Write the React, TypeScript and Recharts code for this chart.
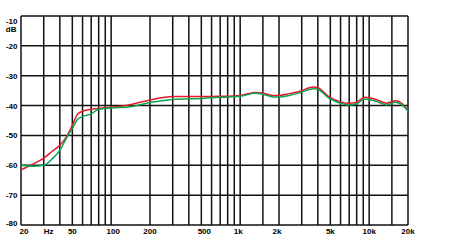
import { CartesianGrid, Line, LineChart, XAxis, YAxis } from 'recharts'

const freqs = [
  20, 25, 30, 35, 40, 45, 50, 55, 60, 70, 80, 100, 140, 200, 300, 500, 700, 1000, 1300, 1500, 1800,
  2000, 2400, 2900, 3700, 4000, 4900, 6000, 7000, 8000, 9200, 10000, 11700, 13600, 16000, 18000, 20000,
]

const redLevels = [
  -61.5, -59.5, -57.6, -55.3, -53.3, -50.5, -46.6, -42.8, -41.9, -41.2, -41, -40.6, -39.7, -38.1,
  -37, -37, -36.9, -36.6, -35.6, -35.8, -36.6, -36.6, -36, -35.2, -33.8, -34, -37.1, -38.8, -39.2,
  -38.9, -37.2, -37.4, -38.2, -39.2, -38.4, -39.3, -41.6,
]

const greenLevels = [
  -60, -60.3, -60, -57.8, -55, -50.9, -47.6, -44.6, -43.7, -42.8, -41.2, -40.8, -40.4, -39, -38,
  -37.6, -37.2, -36.9, -35.9, -36.2, -37.1, -37.1, -36.6, -35.7, -34.4, -34.6, -37.6, -39.2, -39.8,
  -39.4, -37.8, -38, -38.8, -39.8, -38.9, -39.8, -41.9,
]

const gridFreqs = [
  20, 30, 40, 50, 60, 70, 80, 90, 100, 200, 300, 400, 500, 600, 700, 800, 900, 1000, 1500, 2000,
  3000, 4000, 5000, 6000, 7000, 8000, 9000, 10000, 15000, 20000,
]

const freqLabels: Record<number, string> = {
  20: '20',
  30: 'Hz',
  50: '50',
  100: '100',
  200: '200',
  500: '500',
  1000: '1k',
  2000: '2k',
  5000: '5k',
  10000: '10k',
  20000: '20k',
}

// small nudges so labels sit where the original has them
const labelShift: Record<number, number> = { 20: 3, 30: 5, 100: 2, 500: 3, 1000: -2, 2000: -2 }

const dbTicks = [-80, -70, -60, -50, -40, -30, -20, -10]

const data = freqs.map((f, i) => ({ f, red: redLevels[i], green: greenLevels[i] }))

const font = { fontFamily: 'Liberation Sans, Arial, sans-serif', fontSize: 8, fontWeight: 700 }

function FreqTick(props: any) {
  const value = props.payload.value
  const label = freqLabels[value]
  if (!label) return <g />
  return (
    <text x={props.x + (labelShift[value] || 0)} y={234} textAnchor='middle' fill='#000' {...font}>
      {label}
    </text>
  )
}

function DbTick(props: any) {
  const value = props.payload.value
  let y = props.y + 3
  if (value === -10) y += 5
  if (value === -80) y -= 2
  return (
    <g>
      <text x={17.5} y={y} textAnchor='end' fill='#000' {...font}>
        {value}
      </text>
      {value === -10 && (
        <text x={16.5} y={y + 8} textAnchor='end' fill='#000' {...font}>
          dB
        </text>
      )}
    </g>
  )
}

export default function App() {
  return (
    <div style={{ position: 'absolute', left: 0, top: 0, width: 450, height: 246, background: '#fff' }}>
      <LineChart width={450} height={246} data={data} margin={{ top: 16, right: 42, bottom: 0, left: 0 }}>
        <CartesianGrid stroke='#111' strokeWidth={1.5} />
        <XAxis
          dataKey='f'
          type='number'
          scale='log'
          domain={[20, 20000]}
          ticks={gridFreqs}
          interval={0}
          tick={<FreqTick />}
          tickLine={false}
          axisLine={false}
          height={21}
          allowDataOverflow
        />
        <YAxis
          type='number'
          domain={[-80, -10]}
          ticks={dbTicks}
          interval={0}
          tick={<DbTick />}
          tickLine={false}
          axisLine={false}
          width={21}
        />
        <Line
          type='monotone'
          dataKey='red'
          stroke='#e3192b'
          strokeWidth={1.5}
          dot={false}
          isAnimationActive={false}
        />
        <Line
          type='monotone'
          dataKey='green'
          stroke='#08a54f'
          strokeWidth={1.5}
          dot={false}
          isAnimationActive={false}
        />
      </LineChart>
    </div>
  )
}
